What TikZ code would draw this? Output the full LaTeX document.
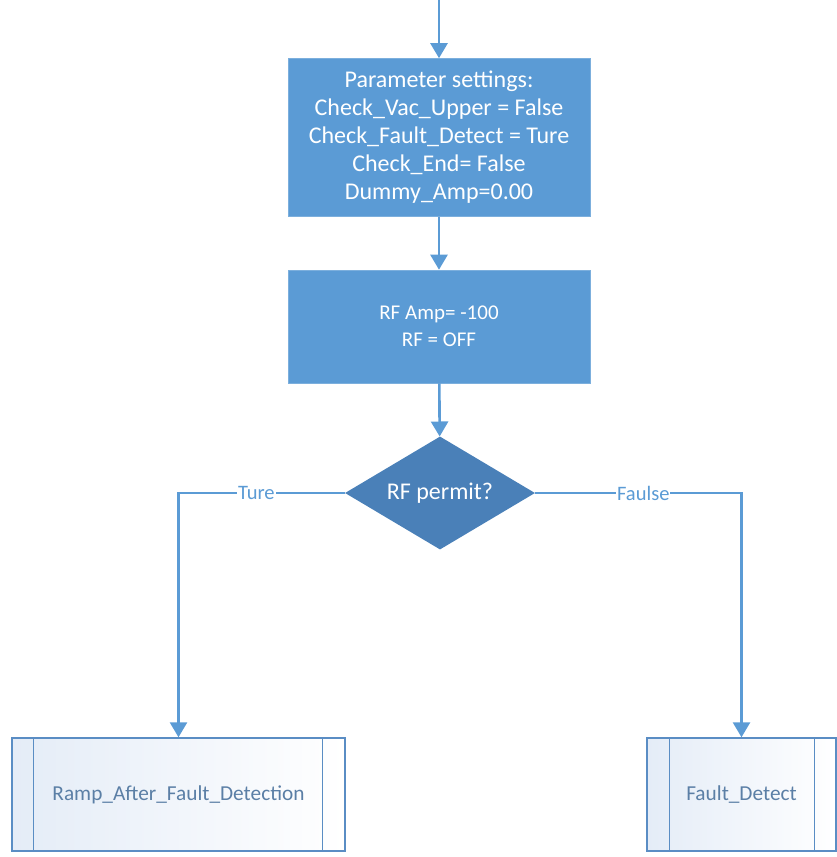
\documentclass[tikz,border=0pt]{standalone}
\usepackage{fontspec}
\setmainfont{Carlito}
\usetikzlibrary{shapes.geometric,arrows.meta}
\definecolor{flowblue}{HTML}{5B9BD5}
\definecolor{decblue}{HTML}{4A80B8}
\definecolor{subedge}{HTML}{5A8DC4}
\definecolor{subtext}{HTML}{5B7FA6}
\definecolor{subfill}{HTML}{E4ECF7}
\begin{document}
\begin{tikzpicture}[x=1pt,y=-1pt,
  conn/.style={draw=flowblue,line width=2.6pt,-{Triangle[length=15pt,width=17pt]}},
  procbox/.style={rectangle,fill=flowblue,draw=flowblue!80!white,line width=0.6pt,
    text=white,align=center,minimum width=302pt,inner sep=0pt},
  decbox/.style={diamond,fill=decblue,text=white,aspect=1.7,inner sep=0pt,
    minimum width=190pt,minimum height=113pt},
  subbox/.style={rectangle,draw=subedge,line width=1.4pt,shading angle=135,
    left color=subfill,right color=white,
    text=subtext,inner sep=0pt,minimum height=113pt,font=\fontsize{21.3}{26}\selectfont},
  subbar/.style={draw=subedge,line width=1.4pt},
  branchlabel/.style={fill=white,text=flowblue,inner sep=1pt,font=\fontsize{20.5}{24}\selectfont}
]
\useasboundingbox (0,0) rectangle (837,857);
\coordinate (start) at (439,0);
\node[procbox,minimum height=158pt,font=\fontsize{24}{28}\selectfont] (params) at (439,137.5)
  {Parameter settings:\\Check\_Vac\_Upper = False\\Check\_Fault\_Detect = Ture\\Check\_End= False\\Dummy\_Amp=0.00};
\node[procbox,minimum height=113pt,font=\fontsize{21}{27}\selectfont] (rfoff) at (439,326.5)
  {RF Amp= -100\\RF = OFF};
\node[decbox,font=\fontsize{24}{28}\selectfont] (permit) at (440,493) {RF permit?};
\node[subbox,minimum width=333pt] (ramp) at (178.5,794.5) {Ramp\_After\_Fault\_Detection};
\node[subbox,minimum width=189pt] (fault) at (741.5,794.5) {Fault\_Detect};
% inner bars of the predefined-process boxes
\draw[subbar] ([xshift=22pt]ramp.north west) -- ([xshift=22pt]ramp.south west);
\draw[subbar] ([xshift=-23pt]ramp.north east) -- ([xshift=-23pt]ramp.south east);
\draw[subbar] ([xshift=23pt]fault.north west) -- ([xshift=23pt]fault.south west);
\draw[subbar] ([xshift=-22pt]fault.north east) -- ([xshift=-22pt]fault.south east);
% connectors
\draw[conn] (start) -- (params);
\draw[conn] (params) -- (rfoff);
\draw[conn] (rfoff) -- (permit);
\draw[conn] (permit.west) -| node[branchlabel,pos=0.266] {Ture} (ramp.north);
\draw[conn] (permit.east) -| node[branchlabel,pos=0.262] {Faulse} (fault.north);
\end{tikzpicture}
\end{document}
